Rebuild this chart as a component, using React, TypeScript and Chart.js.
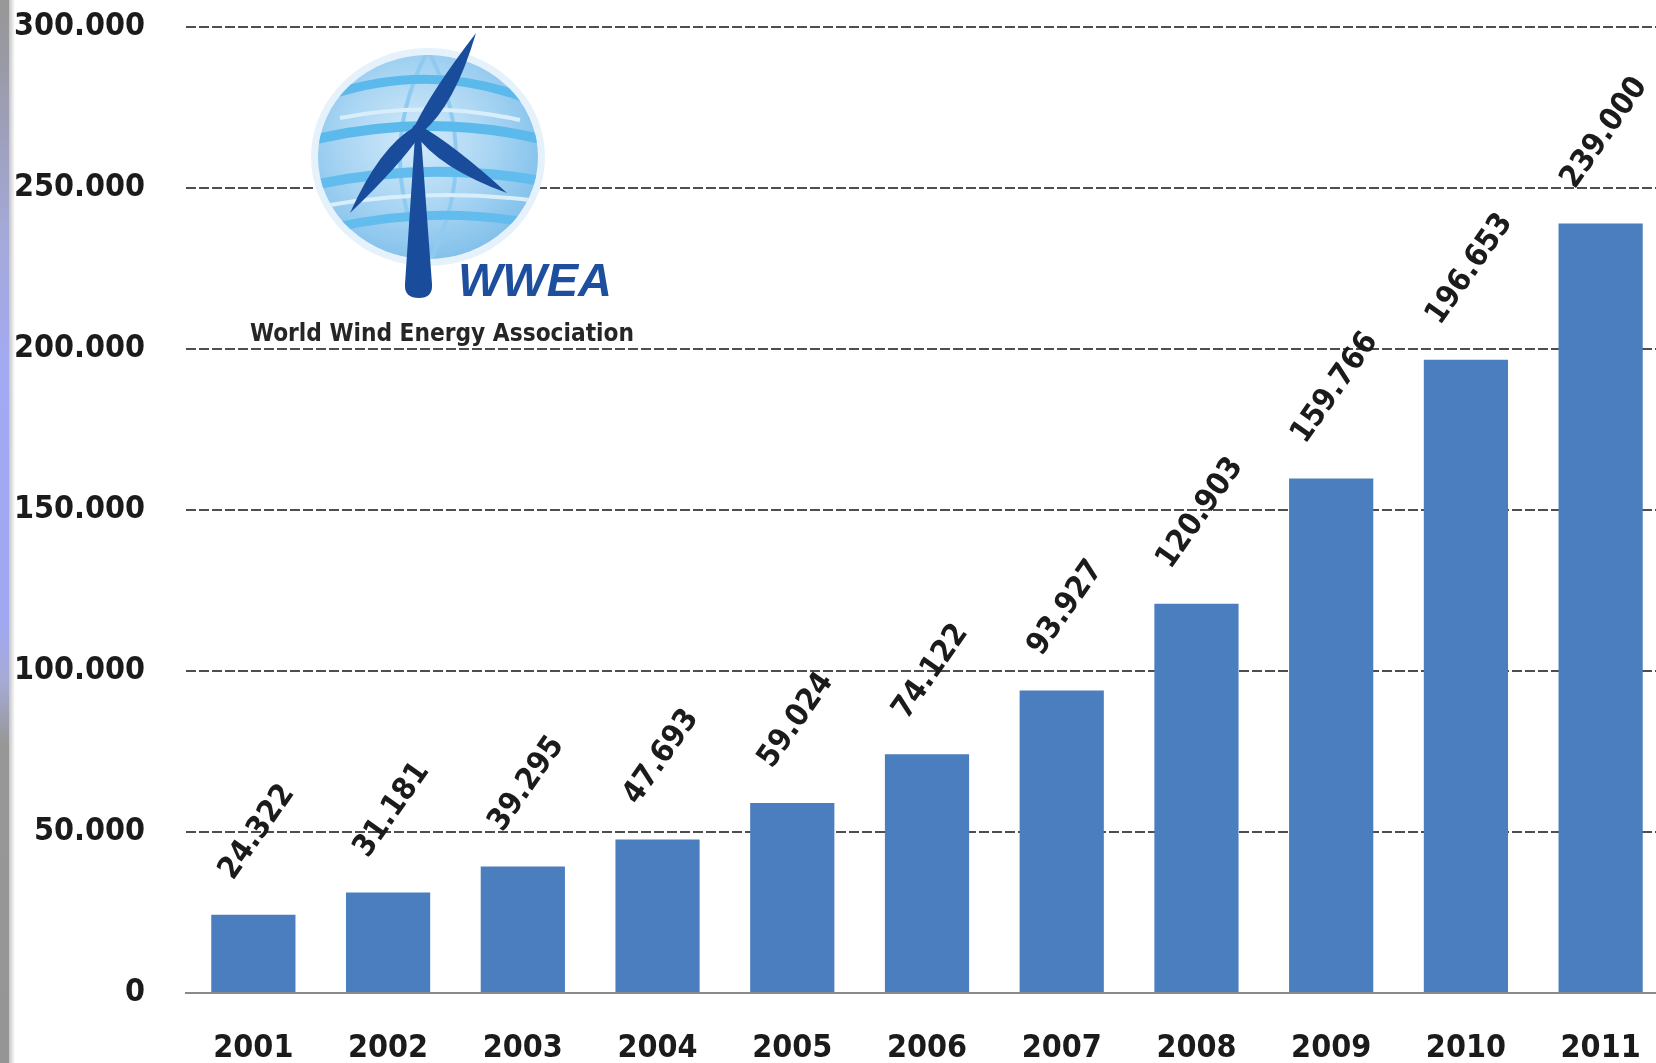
import React, { useEffect, useRef } from 'react';
import { Chart, registerables } from 'chart.js';

Chart.register(...registerables);

// ---- Data ----
const years: string[] = ['2001', '2002', '2003', '2004', '2005', '2006', '2007', '2008', '2009', '2010', '2011'];
const capacityMW: number[] = [24322, 31181, 39295, 47693, 59024, 74122, 93927, 120903, 159766, 196653, 239000];
const yMin = 0;
const yMax = 300000;
const yStep = 50000;

const FONT = '"DejaVu Sans Condensed", "DejaVu Sans", sans-serif';
const TEXT_COLOR = '#1b1b1b';
const BAR_COLOR = '#4a7ebe';
const LABEL_SIZE = 31;
const LABEL_ANGLE = 55;

function fmt(n: number): string {
  const s = Math.round(n).toString();
  return s.replace(/\B(?=(\d{3})+(?!\d))/g, '.');
}

const rotatedLabelPlugin = {
  id: 'rotatedLabels',
  afterDatasetsDraw(chart: any) {
    const ctx = chart.ctx as CanvasRenderingContext2D;
    const meta = chart.getDatasetMeta(0);
    const th = (LABEL_ANGLE * Math.PI) / 180;
    ctx.save();
    ctx.font = `bold ${LABEL_SIZE}px ${FONT}`;
    ctx.fillStyle = TEXT_COLOR;
    ctx.textAlign = 'center';
    ctx.textBaseline = 'middle';
    meta.data.forEach((bar: any, i: number) => {
      const txt = fmt(capacityMW[i]);
      const L = ctx.measureText(txt).width;
      const H = LABEL_SIZE * 0.72;
      const cx = bar.x + 4;
      const cy = bar.y - 32 - (L * Math.sin(th) + H * Math.cos(th)) / 2;
      ctx.save();
      ctx.translate(cx, cy);
      ctx.rotate(-th);
      ctx.fillText(txt, 0, 0);
      ctx.restore();
    });
    ctx.restore();
  },
};

function bladePath(hx: number, hy: number, tx: number, ty: number, w: number): string {
  const dx = tx - hx;
  const dy = ty - hy;
  const len = Math.hypot(dx, dy);
  const ux = dx / len;
  const uy = dy / len;
  const nx = -uy;
  const ny = ux;
  const mx = hx + dx * 0.35;
  const my = hy + dy * 0.35;
  const b1x = hx + nx * w * 0.25;
  const b1y = hy + ny * w * 0.25;
  const b2x = hx - nx * w * 0.25;
  const b2y = hy - ny * w * 0.25;
  return `M ${b1x} ${b1y} Q ${mx + nx * w} ${my + ny * w} ${tx} ${ty} Q ${mx - nx * w * 0.45} ${my - ny * w * 0.45} ${b2x} ${b2y} Z`;
}

function Logo() {
  const hx = 418;
  const hy = 130;
  return (
    <svg
      width={1656}
      height={1063}
      style={{ position: 'absolute', left: 0, top: 0, pointerEvents: 'none' }}
    >
      <defs>
        <radialGradient id="globeFill" cx="45%" cy="42%" r="62%">
          <stop offset="0" stopColor="#d4ebfa" />
          <stop offset="0.55" stopColor="#a9d5f3" />
          <stop offset="1" stopColor="#7fbfea" />
        </radialGradient>
        <clipPath id="globeClip">
          <ellipse cx={428} cy={157} rx={110} ry={102} />
        </clipPath>
      </defs>
      <ellipse cx={428} cy={157} rx={117} ry={109} fill="#e6f2fb" />
      <ellipse cx={428} cy={157} rx={110} ry={102} fill="url(#globeFill)" />
      <g clipPath="url(#globeClip)" fill="none">
        <path d="M 428 50 Q 372 157 428 265" stroke="#8fcbf1" strokeWidth={4} />
        <path d="M 428 50 Q 484 157 428 265" stroke="#8fcbf1" strokeWidth={4} />
        <path d="M 330 95 Q 430 62 525 98" stroke="#5cb9ec" strokeWidth={9} />
        <path d="M 312 140 Q 430 112 545 140" stroke="#5cb9ec" strokeWidth={10} />
        <path d="M 314 185 Q 430 160 546 182" stroke="#62bdee" strokeWidth={10} />
        <path d="M 332 228 Q 430 206 524 222" stroke="#62bdee" strokeWidth={9} />
        <path d="M 340 118 Q 430 100 520 120" stroke="#d8eefb" strokeWidth={4} />
        <path d="M 330 205 Q 430 188 530 200" stroke="#d8eefb" strokeWidth={4} />
      </g>
      <path d="M 415 136 L 421 136 L 432 284 Q 433 298 419 298 Q 404 298 405 284 Z" fill="#1a4c9c" />
      <path d={bladePath(hx, hy, 476, 33, 19)} fill="#1a4c9c" />
      <path d={bladePath(hx, hy, 350, 213, 19)} fill="#1a4c9c" />
      <path d={bladePath(hx, hy, 507, 193, 19)} fill="#1a4c9c" />
      <circle cx={hx} cy={hy} r={6} fill="#1a4c9c" />
      <text
        x={458}
        y={296}
        fontFamily='"Liberation Sans", Arial, sans-serif'
        fontWeight="bold"
        fontStyle="italic"
        fontSize={46}
        fill="#1d4f9e"
        textLength={154}
        lengthAdjust="spacingAndGlyphs"
      >
        WWEA
      </text>
      <text
        x={250}
        y={341}
        fontFamily='"DejaVu Sans Condensed", "Liberation Sans", sans-serif'
        fontSize={24}
        fontWeight="bold"
        fill="#262626"
        textLength={384}
        lengthAdjust="spacingAndGlyphs"
      >
        World Wind Energy Association
      </text>
    </svg>
  );
}

export default function App() {
  const canvasRef = useRef<HTMLCanvasElement | null>(null);

  useEffect(() => {
    if (!canvasRef.current) return;
    const chart = new Chart(canvasRef.current, {
      type: 'bar',
      data: {
        labels: years,
        datasets: [
          {
            data: capacityMW,
            backgroundColor: BAR_COLOR,
            borderWidth: 0,
            barPercentage: 0.625,
            categoryPercentage: 1,
          },
        ],
      },
      options: {
        responsive: false,
        animation: false,
        layout: { padding: { top: 27, right: 2, bottom: 0, left: 0 } },
        plugins: {
          legend: { display: false },
          tooltip: { enabled: false },
        },
        scales: {
          x: {
            grid: { display: false, drawTicks: false },
            border: { display: true, color: '#8a8a8a', width: 2 },
            ticks: {
              color: TEXT_COLOR,
              font: { family: FONT, size: 32, weight: 'bold' },
              padding: 36,
              maxRotation: 0,
              autoSkip: false,
            },
            afterFit: (s: any) => {
              s.height = 70;
              s.paddingLeft = 0;
              s.paddingRight = 0;
            },
          },
          y: {
            min: yMin,
            max: yMax,
            grid: {
              color: (c: any) => (c.tick && c.tick.value === 0 ? 'rgba(0,0,0,0)' : '#4e4e4e'),
              lineWidth: 2,
              drawTicks: false,
            },
            border: { display: false, dash: [10, 3] },
            ticks: {
              stepSize: yStep,
              color: TEXT_COLOR,
              font: { family: FONT, size: 32, weight: 'bold' },
              padding: 41,
              callback: (v: any) => fmt(Number(v)),
            },
            afterFit: (s: any) => {
              s.width = 186;
              s.paddingTop = 18;
              s.paddingBottom = 18;
            },
          },
        },
      },
      plugins: [rotatedLabelPlugin],
    } as any);
    return () => chart.destroy();
  }, []);

  return (
    <div
      style={{
        position: 'fixed',
        left: 0,
        top: 0,
        width: 1656,
        height: 1063,
        overflow: 'hidden',
        background: '#ffffff',
      }}
    >
      <div style={{ position: 'absolute', left: 0, top: 0, width: 1670, height: 1063 }}>
        <canvas ref={canvasRef} width={1670} height={1063} style={{ display: 'block' }} />
      </div>
      <Logo />
      <div
        style={{
          position: 'absolute',
          left: 0,
          top: 0,
          width: 9,
          height: 1063,
          background:
            'linear-gradient(to bottom, #979797 0%, #9a9aa6 6%, #a4a9d8 22%, #a3aaf2 35%, #a0a8f4 58%, #a6abd6 64%, #979797 70%, #959595 100%)',
        }}
      />
      <div
        style={{
          position: 'absolute',
          left: 9,
          top: 0,
          width: 6,
          height: 1063,
          background: 'linear-gradient(to right, #c4c4c4, #ffffff)',
        }}
      />
    </div>
  );
}
